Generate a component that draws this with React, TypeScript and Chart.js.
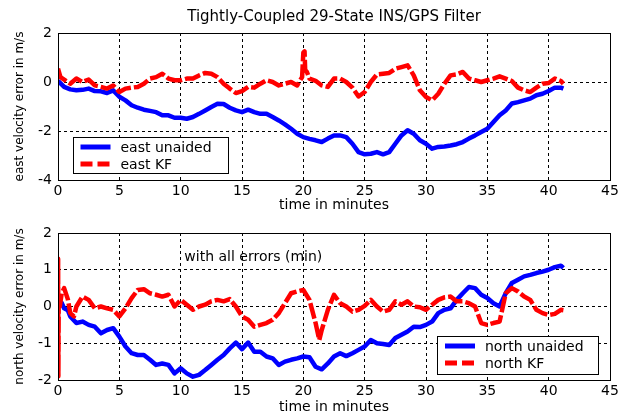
import React, { useEffect, useRef } from "react";
import { Chart, registerables } from "chart.js";

Chart.register(...registerables);

const FONT = "'DejaVu Sans', 'Liberation Sans', sans-serif";

// ---------- data ----------
const chartTitle = "Tightly-Coupled 29-State INS/GPS Filter";
const xTitle = "time in minutes";
const eastYTitle = "east velocity error in m/s";
const northYTitle = "north velocity error in m/s";
const annotationText = "with all errors (min)";

const eastUnaidedT = [0, 0.5, 1, 1.5, 2, 2.5, 3, 3.5, 4, 4.5, 5, 5.5, 6, 6.5, 7, 7.5, 8, 8.5, 9, 9.5, 10, 10.5, 11, 11.5, 12, 12.5, 13, 13.5, 14, 14.5, 15, 15.5, 16, 16.5, 17, 17.5, 18, 18.5, 19, 19.5, 20, 20.5, 21, 21.5, 22, 22.5, 23, 23.5, 24, 24.5, 25, 25.5, 26, 26.5, 27, 27.5, 28, 28.5, 29, 29.5, 30, 30.5, 31, 31.5, 32, 32.5, 33, 33.5, 34, 34.5, 35, 35.5, 36, 36.5, 37, 37.5, 38, 38.5, 39, 39.5, 40, 40.5, 41, 41.2];
const eastUnaidedV = [0.05, -0.2, -0.3, -0.34, -0.32, -0.27, -0.37, -0.38, -0.45, -0.34, -0.6, -0.75, -0.95, -1.05, -1.13, -1.18, -1.23, -1.36, -1.36, -1.46, -1.46, -1.5, -1.43, -1.3, -1.16, -1.02, -0.89, -0.9, -1.05, -1.16, -1.23, -1.13, -1.23, -1.3, -1.3, -1.43, -1.57, -1.73, -1.91, -2.11, -2.25, -2.32, -2.38, -2.45, -2.31, -2.18, -2.18, -2.25, -2.52, -2.86, -2.95, -2.93, -2.86, -2.95, -2.86, -2.52, -2.18, -1.97, -2.11, -2.38, -2.52, -2.72, -2.65, -2.63, -2.59, -2.54, -2.45, -2.31, -2.18, -2.04, -1.91, -1.63, -1.36, -1.16, -0.88, -0.82, -0.75, -0.68, -0.54, -0.48, -0.37, -0.23, -0.23, -0.27];

const eastKfT = [0, 0.2, 0.5, 0.8, 1, 1.5, 2, 2.5, 3, 3.5, 4, 4.5, 5, 5.5, 6, 6.5, 7, 7.5, 8, 8.5, 9, 9.5, 10, 10.5, 11, 11.5, 12, 12.5, 13, 13.5, 14, 14.5, 15, 15.5, 16, 16.5, 17, 17.5, 18, 18.5, 19, 19.5, 19.9, 20, 20.1, 20.15, 20.3, 20.5, 21, 21.5, 22, 22.5, 23, 23.5, 24, 24.5, 25, 25.5, 26, 26.5, 27, 27.5, 28, 28.5, 29, 29.5, 30, 30.5, 31, 31.5, 32, 32.5, 33, 33.5, 34, 34.5, 35, 35.5, 36, 36.5, 37, 37.5, 38, 38.5, 39, 39.5, 40, 40.5, 41, 41.2];
const eastKfV = [0.55, 0.2, 0.1, 0.0, -0.07, 0.14, 0, 0.1, -0.14, -0.2, -0.27, -0.14, -0.41, -0.27, -0.23, -0.2, -0.07, 0.14, 0.2, 0.34, 0.14, 0.07, 0.07, 0.14, 0.14, 0.27, 0.37, 0.34, 0.2, -0.07, -0.27, -0.45, -0.37, -0.2, -0.23, -0.07, 0.07, 0, -0.14, -0.07, 0, -0.14, 0.2, 1.2, 1.25, 0.5, 0.4, 0.14, 0.05, -0.14, -0.2, 0.14, 0.14, 0, -0.23, -0.59, -0.41, 0, 0.31, 0.34, 0.37, 0.54, 0.61, 0.68, 0.27, -0.34, -0.61, -0.75, -0.48, -0.07, 0.27, 0.31, 0.41, 0.14, 0.07, 0, 0.07, 0.14, 0.23, 0.14, 0.04, -0.23, -0.34, -0.41, -0.23, -0.07, -0.04, 0.14, 0.04, -0.07];

const northUnaidedT = [0, 0.3, 0.5, 0.8, 1, 1.5, 2, 2.5, 3, 3.5, 4, 4.5, 5, 5.5, 6, 6.5, 7, 7.5, 8, 8.5, 9, 9.5, 10, 10.5, 11, 11.5, 12, 12.5, 13, 13.5, 14, 14.5, 15, 15.5, 16, 16.5, 17, 17.5, 18, 18.5, 19, 19.5, 20, 20.5, 21, 21.5, 22, 22.5, 23, 23.5, 24, 24.5, 25, 25.5, 26, 26.5, 27, 27.5, 28, 28.5, 29, 29.5, 30, 30.5, 31, 31.5, 32, 32.5, 33, 33.5, 34, 34.5, 35, 35.5, 36, 36.5, 37, 37.5, 38, 38.5, 39, 39.5, 40, 40.5, 41, 41.2];
const northUnaidedV = [0.0, 0.1, -0.05, -0.1, -0.27, -0.45, -0.41, -0.5, -0.55, -0.73, -0.64, -0.59, -0.82, -1.09, -1.27, -1.32, -1.32, -1.45, -1.59, -1.55, -1.59, -1.82, -1.68, -1.82, -1.91, -1.86, -1.73, -1.59, -1.45, -1.32, -1.14, -0.98, -1.16, -0.98, -1.23, -1.23, -1.36, -1.41, -1.59, -1.5, -1.45, -1.41, -1.36, -1.38, -1.64, -1.71, -1.55, -1.36, -1.27, -1.35, -1.27, -1.18, -1.09, -0.91, -1.0, -1.02, -1.05, -0.86, -0.77, -0.68, -0.55, -0.56, -0.5, -0.41, -0.18, -0.09, -0.05, 0.18, 0.36, 0.53, 0.5, 0.32, 0.23, 0.09, 0.0, 0.36, 0.64, 0.73, 0.82, 0.86, 0.91, 0.95, 1.0, 1.07, 1.11, 1.05];

const northKfT = [0, 0.01, 0.03, 0.06, 0.15, 0.3, 0.5, 0.8, 1, 1.3, 1.5, 2, 2.5, 3, 3.5, 4, 4.5, 5, 5.5, 6, 6.5, 7, 7.5, 8, 8.5, 9, 9.5, 10, 10.5, 11, 11.5, 12, 12.5, 13, 13.5, 14, 14.5, 15, 15.5, 16, 16.5, 17, 17.5, 18, 18.5, 19, 19.5, 20, 20.5, 21, 21.3, 21.5, 22, 22.5, 23, 23.5, 24, 24.5, 25, 25.5, 26, 26.5, 27, 27.5, 28, 28.5, 29, 29.5, 30, 30.5, 31, 31.5, 32, 32.5, 33, 33.5, 34, 34.5, 35, 35.5, 36, 36.5, 37, 37.5, 38, 38.5, 39, 39.5, 40, 40.5, 41, 41.2];
const northKfV = [0, 1.3, -1.9, 0.2, 0.0, 0.36, 0.5, 0.2, -0.18, -0.27, 0, 0.27, 0.18, -0.05, 0, -0.05, -0.09, -0.27, -0.05, 0.23, 0.45, 0.47, 0.36, 0.32, 0.27, 0.32, 0, 0.18, 0.05, -0.09, 0, 0.05, 0.14, 0.18, 0.14, 0.2, 0, -0.27, -0.36, -0.55, -0.5, -0.45, -0.36, -0.18, 0.09, 0.36, 0.41, 0.45, 0.18, -0.45, -0.91, -0.64, -0.09, 0.32, 0.09, 0, -0.14, -0.09, 0.02, 0.18, 0, -0.14, -0.09, 0.14, 0.05, 0.14, 0, -0.02, -0.09, 0.05, 0.18, 0.25, 0.27, 0.14, 0.14, 0.09, 0, -0.45, -0.5, -0.45, -0.41, 0.36, 0.5, 0.41, 0.27, 0.18, -0.09, -0.18, -0.23, -0.2, -0.09, -0.1];

const xTicksMax = 45;
const xStep = 5;

// ---------- helpers ----------
const pts = (t: number[], v: number[]) => t.map((x, i) => ({ x, y: v[i] }));

const BLUE = "#0000ff";
const RED = "#ff0000";

function datasets(blueLabel: string, bt: number[], bv: number[], redLabel: string, rt: number[], rv: number[]) {
  return [
    {
      label: blueLabel,
      data: pts(bt, bv),
      borderColor: BLUE,
      backgroundColor: BLUE,
      borderWidth: 4.5,
      pointRadius: 0,
      tension: 0,
      borderJoinStyle: "round" as const,
      order: 1,
    },
    {
      label: redLabel,
      data: pts(rt, rv),
      borderColor: RED,
      backgroundColor: RED,
      borderWidth: 4.5,
      pointRadius: 0,
      tension: 0,
      borderDash: [16, 3],
      borderJoinStyle: "round" as const,
      order: 0,
    },
  ];
}

const boxPlugin = {
  id: "boxFrame",
  afterDraw(chart: any) {
    const { ctx, chartArea } = chart;
    const { left, top, right, bottom } = chartArea;
    ctx.save();
    ctx.setLineDash([]);
    ctx.strokeStyle = "#000";
    ctx.lineWidth = 1;
    ctx.strokeRect(Math.round(left) + 0.5, Math.round(top) + 0.5, Math.round(right - left), Math.round(bottom - top));
    ctx.restore();
  },
};

function legendPlugin(place: "bottomLeft" | "bottomRight", w: number, h: number, dx: number, dy: number) {
  return {
    id: "inLegend",
    afterDraw(chart: any) {
      const { ctx, chartArea } = chart;
      const bx = place === "bottomLeft" ? chartArea.left + dx : chartArea.right - dx - w;
      const by = chartArea.bottom - dy - h;
      ctx.save();
      ctx.setLineDash([]);
      ctx.fillStyle = "#fff";
      ctx.fillRect(bx, by, w, h);
      ctx.strokeStyle = "#000";
      ctx.lineWidth = 1;
      ctx.strokeRect(Math.round(bx) + 0.5, Math.round(by) + 0.5, w, h);
      const dsets = chart.data.datasets;
      dsets.forEach((ds: any, i: number) => {
        const ry = by + 10 + i * 17;
        ctx.beginPath();
        ctx.strokeStyle = ds.borderColor;
        ctx.lineWidth = 5;
        ctx.setLineDash(ds.borderDash ? [12, 5] : []);
        ctx.moveTo(bx + 8, ry);
        ctx.lineTo(bx + 38, ry);
        ctx.stroke();
        ctx.setLineDash([]);
        ctx.fillStyle = "#000";
        ctx.font = `14px ${FONT}`;
        ctx.textAlign = "left";
        ctx.textBaseline = "middle";
        ctx.fillText(ds.label, bx + 48, ry + 1);
      });
      ctx.restore();
    },
  };
}

function textPlugin(text: string, mode: "title" | "data", px?: number, py?: number, size = 14) {
  return {
    id: "txt_" + mode,
    afterDraw(chart: any) {
      const { ctx, chartArea, scales } = chart;
      ctx.save();
      ctx.fillStyle = "#000";
      ctx.font = `${size}px ${FONT}`;
      ctx.textBaseline = "middle";
      if (mode === "title") {
        ctx.textAlign = "center";
        ctx.fillText(text, (chartArea.left + chartArea.right) / 2, 17);
      } else {
        ctx.textAlign = "left";
        ctx.fillText(text, scales.x.getPixelForValue(px), scales.y.getPixelForValue(py));
      }
      ctx.restore();
    },
  };
}

function baseOptions(padTop: number, yMin: number, yMax: number, yStep: number, yTitle: string, xTitleBottomPad: number, xHeight: number) {
  return {
    responsive: false,
    animation: false as const,
    events: [] as any[],
    layout: { padding: { top: padTop, right: 18, bottom: 0, left: 0 } },
    plugins: {
      legend: { display: false },
      tooltip: { enabled: false },
      title: { display: false },
    },
    scales: {
      x: {
        type: "linear" as const,
        min: 0,
        max: xTicksMax,
        ticks: { stepSize: xStep, color: "#000", font: { family: FONT, size: 14 }, padding: 3, maxRotation: 0, autoSkip: false },
        grid: { color: "#000", lineWidth: 1, drawTicks: false },
        border: { display: false, dash: [3, 3] },
        title: { display: true, text: xTitle, color: "#000", font: { family: FONT, size: 14 }, padding: { top: 0, bottom: xTitleBottomPad } },
        afterFit(s: any) {
          s.height = xHeight;
        },
      },
      y: {
        type: "linear" as const,
        min: yMin,
        max: yMax,
        ticks: { stepSize: yStep, color: "#000", font: { family: FONT, size: 14 }, padding: 6 },
        grid: { color: "#000", lineWidth: 1, drawTicks: false },
        border: { display: false, dash: [3, 3] },
        title: { display: true, text: yTitle, color: "#000", font: { family: FONT, size: 12 }, padding: { top: 13, bottom: 0 } },
        afterFit(s: any) {
          s.width = 58;
        },
      },
    },
  };
}

export default function App() {
  const c1 = useRef<HTMLCanvasElement>(null);
  const c2 = useRef<HTMLCanvasElement>(null);

  useEffect(() => {
    const ch1 = new Chart(c1.current as HTMLCanvasElement, {
      type: "line",
      data: { datasets: datasets("east unaided", eastUnaidedT, eastUnaidedV, "east KF", eastKfT, eastKfV) as any },
      options: baseOptions(33, -4, 2, 2, eastYTitle, 2, 36) as any,
      plugins: [boxPlugin, legendPlugin("bottomLeft", 155, 36, 14.5, 7), textPlugin(chartTitle, "title", 0, 0, 15)],
    });
    const ch2 = new Chart(c2.current as HTMLCanvasElement, {
      type: "line",
      data: { datasets: datasets("north unaided", northUnaidedT, northUnaidedV, "north KF", northKfT, northKfV) as any },
      options: baseOptions(17, -2, 2, 1, northYTitle, 1, 37) as any,
      plugins: [boxPlugin, legendPlugin("bottomRight", 161, 38, 12, 6), textPlugin(annotationText, "data", 10.3, 1.33, 14)],
    });
    return () => {
      ch1.destroy();
      ch2.destroy();
    };
  }, []);

  return (
    <div style={{ position: "absolute", left: 0, top: 0, width: 628, height: 417, background: "#fff" }}>
      <canvas ref={c1} width={628} height={216} style={{ position: "absolute", left: 0, top: 0, width: 628, height: 216 }} />
      <canvas ref={c2} width={628} height={201} style={{ position: "absolute", left: 0, top: 216, width: 628, height: 201 }} />
    </div>
  );
}
